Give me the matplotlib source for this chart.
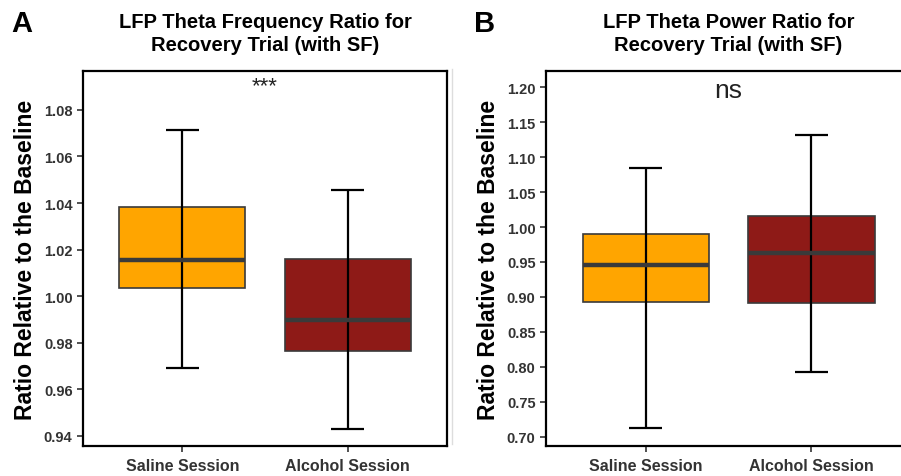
import numpy as np
import matplotlib.pyplot as plt
from matplotlib.lines import Line2D

plt.rcParams['font.family'] = ['Liberation Sans', 'DejaVu Sans']

groups = ["Saline Session", "Alcohol Session"]
colors = ["#FFA500", "#8E1A17"]

# panel A: theta frequency ratio
freq_lo = [0.969, 0.943]
freq_q1 = [1.0036, 0.9766]
freq_med = [1.0155, 0.9898]
freq_q3 = [1.0385, 1.0162]
freq_hi = [1.0715, 1.0457]

# panel B: theta power ratio
pow_lo = [0.7125, 0.7925]
pow_q1 = [0.8935, 0.8910]
pow_med = [0.9450, 0.9625]
pow_q3 = [0.9905, 1.0155]
pow_hi = [1.0850, 1.1310]

fig = plt.figure(figsize=(9.01, 4.77), dpi=100)
W, H = 901, 477


def panel(rect, lo, q1, med, q3, hi, ylim, yticks, title, letter, sig, sig_y, sig_size):
    l, t, r, b = rect
    ax = fig.add_axes([l / W, 1 - b / H, (r - l) / W, (b - t) / H])
    x = np.arange(1, len(groups) + 1)
    bw = 0.76
    ax.bar(x, np.array(q3) - np.array(q1), bottom=q1, width=bw, color=colors,
           edgecolor="#3a3a3a", linewidth=1.2, zorder=2)
    ax.vlines(x, lo, hi, color="black", linewidth=1.6, zorder=3)
    ax.hlines(lo, x - 0.1, x + 0.1, color="black", linewidth=1.6, zorder=3)
    ax.hlines(hi, x - 0.1, x + 0.1, color="black", linewidth=1.6, zorder=3)
    ax.hlines(med, x - bw / 2, x + bw / 2, color="#3a3a3a", linewidth=3.2, zorder=4)
    ax.set_xlim(0.4, 2.6)
    ax.set_ylim(*ylim)
    ax.set_yticks(yticks)
    ax.set_yticklabels([f"{v:.2f}" for v in yticks])
    ax.set_xticks(x)
    ax.set_xticklabels(groups)
    for s in ax.spines.values():
        s.set_linewidth(1.6)
        s.set_color("black")
    ax.tick_params(axis="both", direction="out", length=4, width=1.2, color="#333333",
                   labelcolor="#333333")
    ax.tick_params(axis="y", labelsize=10.5)
    ax.tick_params(axis="x", labelsize=11.5, pad=5)
    for lab in ax.get_xticklabels() + ax.get_yticklabels():
        lab.set_fontweight("bold")
    ax.set_ylabel("Ratio Relative to the Baseline", fontsize=16.5, fontweight="bold", labelpad=5)
    ax.set_title(title, fontsize=14.5, fontweight="bold", pad=15, linespacing=1.3)
    ax.text(1.5, sig_y, sig, ha="center", va="center", fontsize=sig_size, color="#222222")
    fig.text((l - 72) / W, 1 - 24 / H, letter, fontsize=21, fontweight="bold", va="center")
    return ax


panel((83, 72, 447, 447), freq_lo, freq_q1, freq_med, freq_q3, freq_hi,
      (0.9357, 1.0967), [0.94, 0.96, 0.98, 1.00, 1.02, 1.04, 1.06, 1.08],
      "LFP Theta Frequency Ratio for\nRecovery Trial (with SF)", "A", "***", 1.0905, 16)
panel((546, 72, 911, 447), pow_lo, pow_q1, pow_med, pow_q3, pow_hi,
      (0.6871, 1.2229), [0.70, 0.75, 0.80, 0.85, 0.90, 0.95, 1.00, 1.05, 1.10, 1.15, 1.20],
      "LFP Theta Power Ratio for\nRecovery Trial (with SF)", "B", "ns", 1.1960, 19)

# faint seam between the two panels
fig.add_artist(Line2D([452 / W, 452 / W], [1 - 445 / H, 1 - 70 / H], color="#dddddd", linewidth=1))

fig.savefig("out.png", dpi=100)
